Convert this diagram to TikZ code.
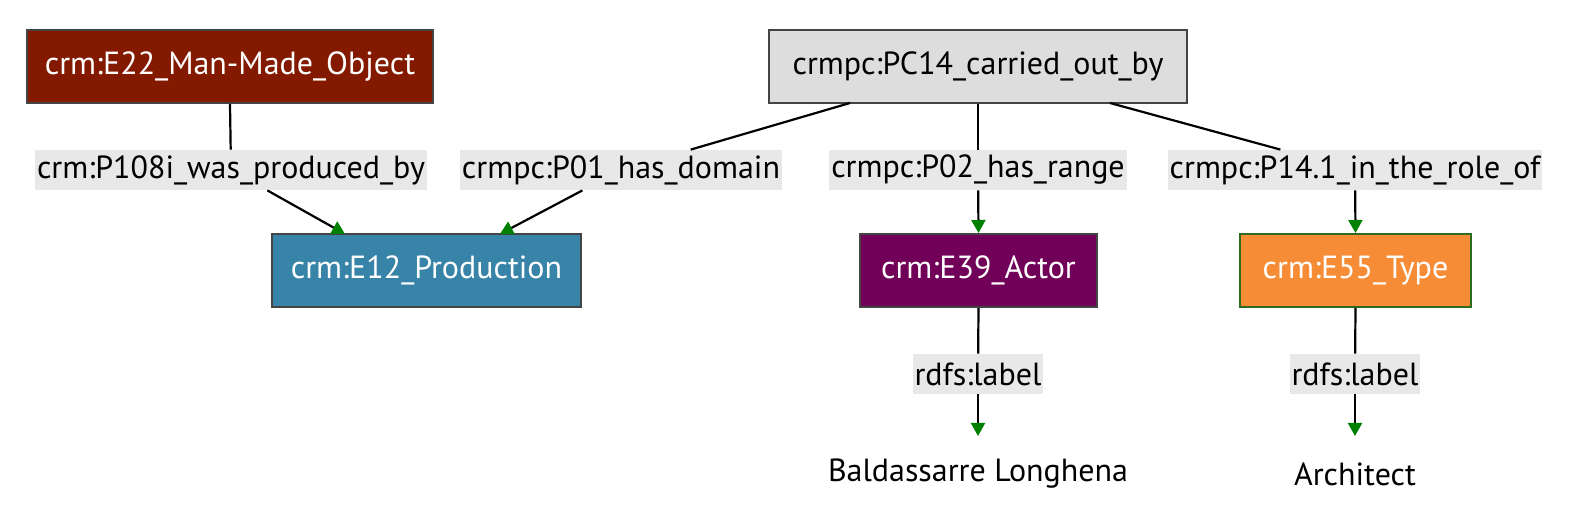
\documentclass[tikz,border=0pt]{standalone}
\usepackage{fontspec}
\setmainfont{PT Sans}
\usetikzlibrary{arrows.meta}
\definecolor{cE22}{HTML}{831A00}
\definecolor{cE12}{HTML}{3784A8}
\definecolor{cE39}{HTML}{710058}
\definecolor{cE55}{HTML}{F68D36}
\definecolor{cPC}{HTML}{DDDDDD}
\definecolor{cLab}{HTML}{E8E8E8}
\definecolor{cTip}{HTML}{008000}
\definecolor{cBd}{HTML}{444444}
\definecolor{cBdG}{HTML}{2E6B1F}
\tikzset{
  box/.style={draw=cBd, line width=1pt, minimum height=36.5pt, inner xsep=0pt,
    font=\fontsize{16}{19}\selectfont},
  elab/.style={fill=cLab, inner xsep=1pt, inner ysep=0pt, minimum height=20pt,
    font=\fontsize{16}{19}\selectfont},
  plain/.style={font=\fontsize{16}{19}\selectfont},
  conn/.style={line width=1.1pt, -{Triangle[length=6.5pt,width=7pt,color=cTip]}},
  seg/.style={line width=1.1pt},
}
\begin{document}
\begin{tikzpicture}[x=0.5pt,y=-0.5pt]
\useasboundingbox (0,0) rectangle (1570,518);
% main nodes
\node[box, fill=cE22, text=white, minimum width=203pt] (e22) at (230,66.5) {crm:E22\_Man-Made\_Object};
\node[box, fill=cPC, text=black, minimum width=209pt] (pc14) at (978,66.5) {crmpc:PC14\_carried\_out\_by};
\node[box, fill=cE12, text=white, minimum width=154.5pt] (e12) at (426.5,270.5) {crm:E12\_Production};
\node[box, fill=cE39, text=white, minimum width=118.5pt] (e39) at (978.5,270.5) {crm:E39\_Actor};
\node[box, draw=cBdG, fill=cE55, text=white, minimum width=115.5pt] (e55) at (1355.5,270.5) {crm:E55\_Type};
\node[plain] (bl) at (978,474) {Baldassarre Longhena};
\node[plain] (ar) at (1355,474) {Architect};
% edge labels
\node[elab] (l1) at (231,170) {crm:P108i\_was\_produced\_by};
\node[elab] (l2) at (621,170) {crmpc:P01\_has\_domain};
\node[elab] (l3) at (978,170) {crmpc:P02\_has\_range};
\node[elab] (l4) at (1355,170) {crmpc:P14.1\_in\_the\_role\_of};
\node[elab] (l5) at (978,374) {rdfs:label};
\node[elab] (l6) at (1355,374) {rdfs:label};
% anchor coordinates
\coordinate (s2) at (850,103);
\coordinate (s4) at (1110,103);
\coordinate (t1) at (345,234);
\coordinate (t2) at (500,234);
\coordinate (t5) at (978,436);
\coordinate (t6) at (1355,436);
% connectors
\draw[seg] (e22.south) -- (l1);
\draw[conn] (l1) -- (t1);
\draw[seg] (s2) -- (l2);
\draw[conn] (l2) -- (t2);
\draw[seg] (pc14.south) -- (l3);
\draw[conn] (l3) -- (e39.north);
\draw[seg] (s4) -- (l4);
\draw[conn] (l4) -- (e55.north);
\draw[seg] (e39.south) -- (l5);
\draw[conn] (l5) -- (t5);
\draw[seg] (e55.south) -- (l6);
\draw[conn] (l6) -- (t6);
\end{tikzpicture}
\end{document}
